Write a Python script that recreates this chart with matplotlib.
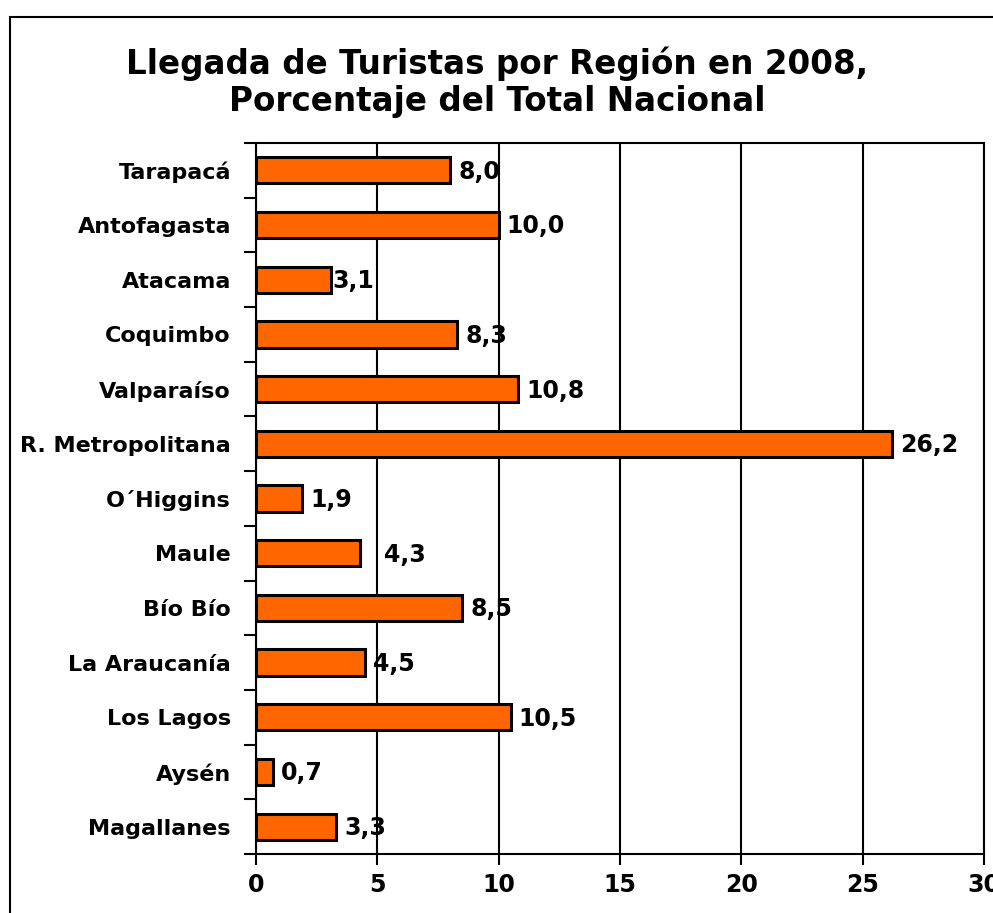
import matplotlib
matplotlib.use("Agg")
import matplotlib.pyplot as plt
from matplotlib.patches import Rectangle

regions = ["Tarapacá", "Antofagasta", "Atacama", "Coquimbo", "Valparaíso",
           "R. Metropolitana", "O´Higgins", "Maule", "Bío Bío", "La Araucanía",
           "Los Lagos", "Aysén", "Magallanes"]
values = [8.0, 10.0, 3.1, 8.3, 10.8, 26.2, 1.9, 4.3, 8.5, 4.5, 10.5, 0.7, 3.3]
xticks = [0, 5, 10, 15, 20, 25, 30]
title = "Llegada de Turistas por Región en 2008,\nPorcentaje del Total Nacional"

plt.rcParams['font.family'] = ['DejaVu Sans']
plt.rcParams['font.weight'] = 'bold'

fig = plt.figure(figsize=(9.93, 9.13), dpi=100)
fig.patch.set_facecolor("white")

# outer chart border
fig.patches.append(Rectangle((10/993, -0.1), 1.2, 1 - 17/913 + 0.1,
                             transform=fig.transFigure, fill=False,
                             edgecolor="black", linewidth=1.5))

ax = fig.add_axes([256/993, 1 - 854/913, (984 - 256)/993, (854 - 143)/913])
n = len(regions)
ypos = list(range(n))
ax.barh(ypos, values, height=0.48, color="#FF6600", edgecolor="black",
        linewidth=2.2, zorder=3)
ax.set_ylim(n - 0.5, -0.5)
ax.set_xlim(0, 30)

ax.set_xticks(xticks)
ax.set_xticklabels([str(t) for t in xticks], fontsize=17, fontweight="bold")
ax.set_yticks(ypos)
ax.set_yticklabels(regions, fontsize=16, fontweight="bold")
ax.tick_params(axis="y", length=0, pad=18)
ax.set_yticks([i + 0.5 for i in range(-1, n)], minor=True)
ax.tick_params(axis="y", which="minor", length=9, width=1.5, direction="out")
ax.tick_params(axis="x", length=8, width=1.5, direction="out", pad=6)

ax.grid(axis="x", color="black", linewidth=1.5, zorder=0)
for s in ax.spines.values():
    s.set_linewidth(1.5)
    s.set_color("black")

nudge = {"Atacama": -7, "Maule": 16}
for r, v, y in zip(regions, values, ypos):
    off = 8 + nudge.get(r, 0)
    ax.annotate(f"{v:.1f}".replace(".", ","), xy=(v, y), xytext=(off * 0.72, -1),
                textcoords="offset points", va="center", ha="left",
                fontsize=17, fontweight="bold", zorder=4)

fig.text(497/993, 1 - 82/913, title, ha="center", va="center",
         fontsize=23.5, fontweight="bold", linespacing=1.15)

fig.savefig("out.png", dpi=100, facecolor="white")
